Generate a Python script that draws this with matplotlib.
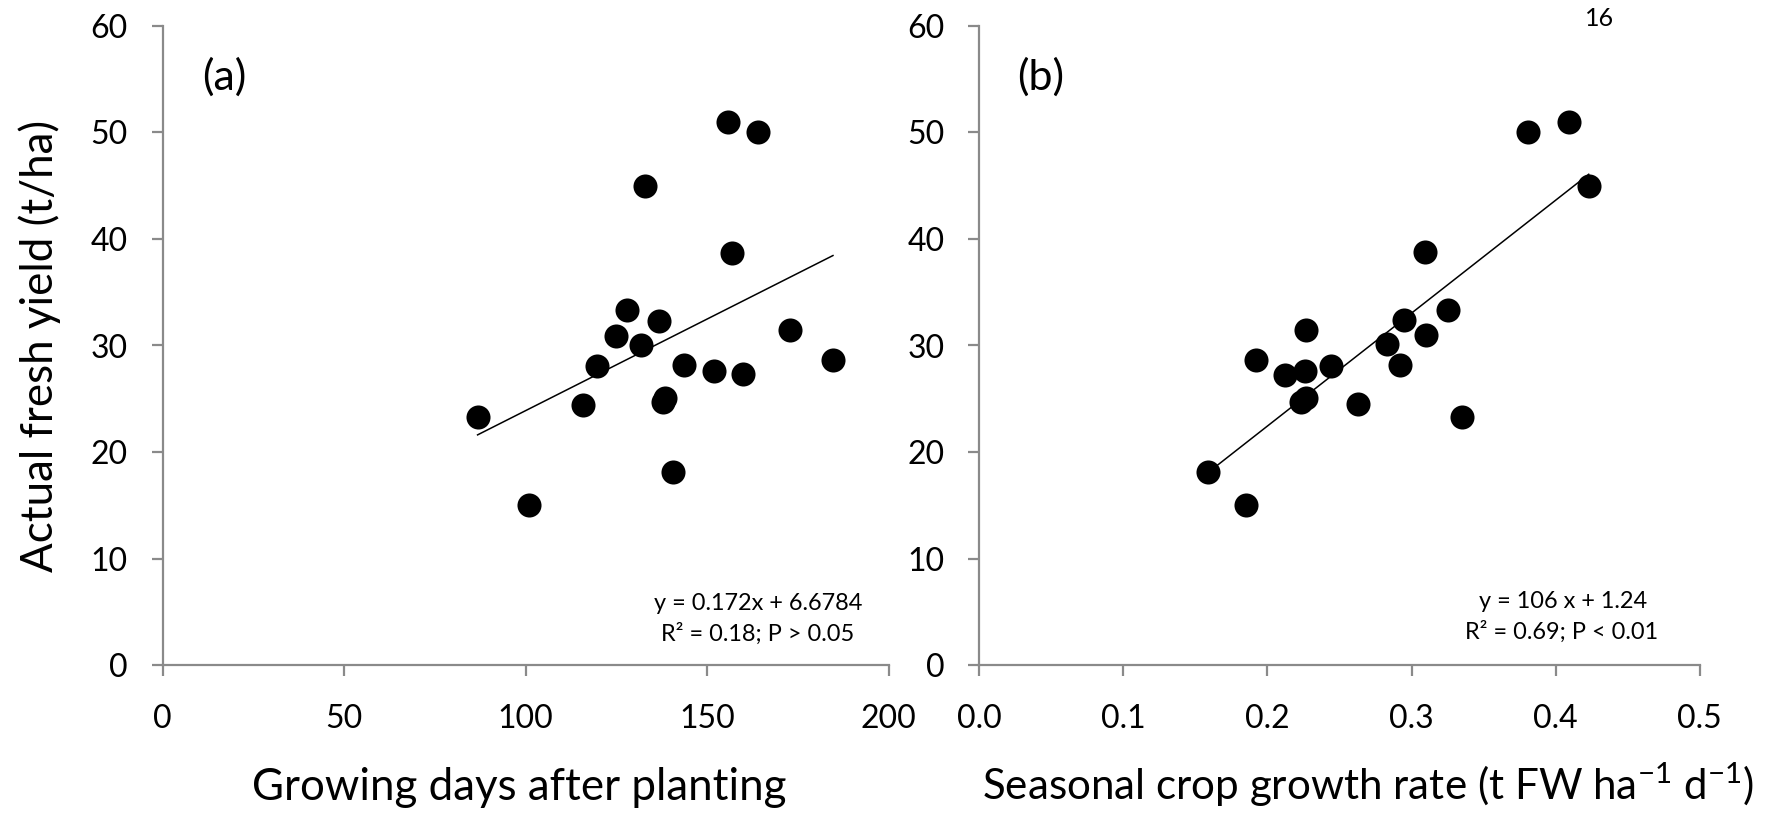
import matplotlib
matplotlib.use("Agg")
import matplotlib.pyplot as plt
import numpy as np

plt.rcParams['font.family'] = ['Lato', 'DejaVu Sans']
plt.rcParams['mathtext.fontset'] = 'custom'
plt.rcParams['mathtext.rm'] = 'Lato'
plt.rcParams['mathtext.it'] = 'Lato:italic'

# (a) growing days vs yield
days = [86.8, 100.9, 115.9, 119.8, 124.9, 127.9, 131.7, 132.8, 136.8, 137.9,
        138.4, 140.7, 143.6, 151.8, 155.7, 156.8, 159.8, 164.1, 172.8, 184.7]
yield_a = [23.3, 15.0, 24.4, 28.1, 30.9, 33.3, 30.0, 45.0, 32.3, 24.7,
           25.1, 18.1, 28.2, 27.6, 51.0, 38.7, 27.3, 50.0, 31.5, 28.6]

# (b) seasonal crop growth rate vs yield
rate = [0.159, 0.185, 0.192, 0.212, 0.226, 0.227, 0.223, 0.227, 0.244, 0.263,
        0.283, 0.292, 0.295, 0.309, 0.310, 0.325, 0.335, 0.381, 0.409, 0.423]
yield_b = [18.1, 15.0, 28.6, 27.2, 27.6, 31.5, 24.7, 25.1, 28.1, 24.5,
           30.1, 28.2, 32.4, 38.8, 31.0, 33.3, 23.3, 50.0, 51.0, 45.0]

fit_a = (0.172, 6.6784)
fit_b = (106, 1.24)

yticks = [0, 10, 20, 30, 40, 50, 60]
xticks_a = [0, 50, 100, 150, 200]
xticks_b = [0.0, 0.1, 0.2, 0.3, 0.4, 0.5]

W, H = 1779, 813
fig = plt.figure(figsize=(W / 100, H / 100), dpi=100)
ax1 = fig.add_axes([162.5 / W, 1 - 665 / H, 726 / W, 639 / H])
ax2 = fig.add_axes([979.3 / W, 1 - 665 / H, 720.4 / W, 639 / H])

gray = '#8a8a8a'


def px(x, y):
    # pixel position (from top-left) -> figure fraction
    return x / W, 1 - y / H


def fit_width(t, target):
    r = fig.canvas.get_renderer()
    w = t.get_window_extent(r).width
    t.set_fontsize(t.get_fontsize() * target / w)


def style(ax):
    for s in ['top', 'right']:
        ax.spines[s].set_visible(False)
    for s in ['left', 'bottom']:
        ax.spines[s].set_color(gray)
        ax.spines[s].set_linewidth(1.6)
    ax.tick_params(direction='out', length=8, width=1.6, color=gray,
                   labelsize=23)
    ax.tick_params(axis='x', pad=20)
    ax.tick_params(axis='y', pad=17)
    ax.set_ylim(0, 60)
    ax.set_yticks(yticks)


def draw(ax, x, y, fit):
    ax.scatter(x, y, s=300, color='black', zorder=3, linewidths=0)
    xs = np.array([min(x), max(x)])
    ax.plot(xs, fit[0] * xs + fit[1], color='black', lw=1.1, zorder=2)


style(ax1)
style(ax2)
draw(ax1, days, yield_a, fit_a)
draw(ax2, rate, yield_b, fit_b)

ax1.set_xlim(0, 200)
ax1.set_xticks(xticks_a)
ax2.set_xlim(0, 0.5)
ax2.set_xticks(xticks_b)
ax2.set_xticklabels(['%.1f' % v for v in xticks_b])

# panel letters
fig.text(*px(224, 77), '(a)', fontsize=31, ha='center', va='center')
fig.text(*px(1041, 77), '(b)', fontsize=31, ha='center', va='center')

# regression annotations
t = fig.text(*px(758, 610), 'y = 0.172x + 6.6784', fontsize=16,
             ha='center', va='baseline')
fit_width(t, 210)
fs = t.get_fontsize()
fig.text(*px(757.5, 641), 'R² = 0.18; P > 0.05', fontsize=fs,
         ha='center', va='baseline')
fig.text(*px(1563, 608), 'y = 106 x + 1.24', fontsize=fs,
         ha='center', va='baseline')
fig.text(*px(1561.5, 639), 'R² = 0.69; P < 0.01', fontsize=fs,
         ha='center', va='baseline')

# axis titles
xl = fig.text(*px(252, 800), 'Growing days after planting', fontsize=30,
              ha='left', va='baseline')
fit_width(xl, 533)
lab_fs = xl.get_fontsize()
xl2 = fig.text(*px(982, 800),
               r'Seasonal crop growth rate (t FW ha$\mathregular{^{-1}}$ d$\mathregular{^{-1}}$)',
               fontsize=lab_fs, ha='left', va='baseline')
fit_width(xl2, 772)
fig.text(*px(53, 345.5), 'Actual fresh yield (t/ha)', fontsize=lab_fs,
         rotation=90, rotation_mode='anchor', ha='center', va='baseline')

fig.text(*px(1600, 26), '16', fontsize=18, ha='center', va='baseline')

fig.savefig('out.png', dpi=100)
